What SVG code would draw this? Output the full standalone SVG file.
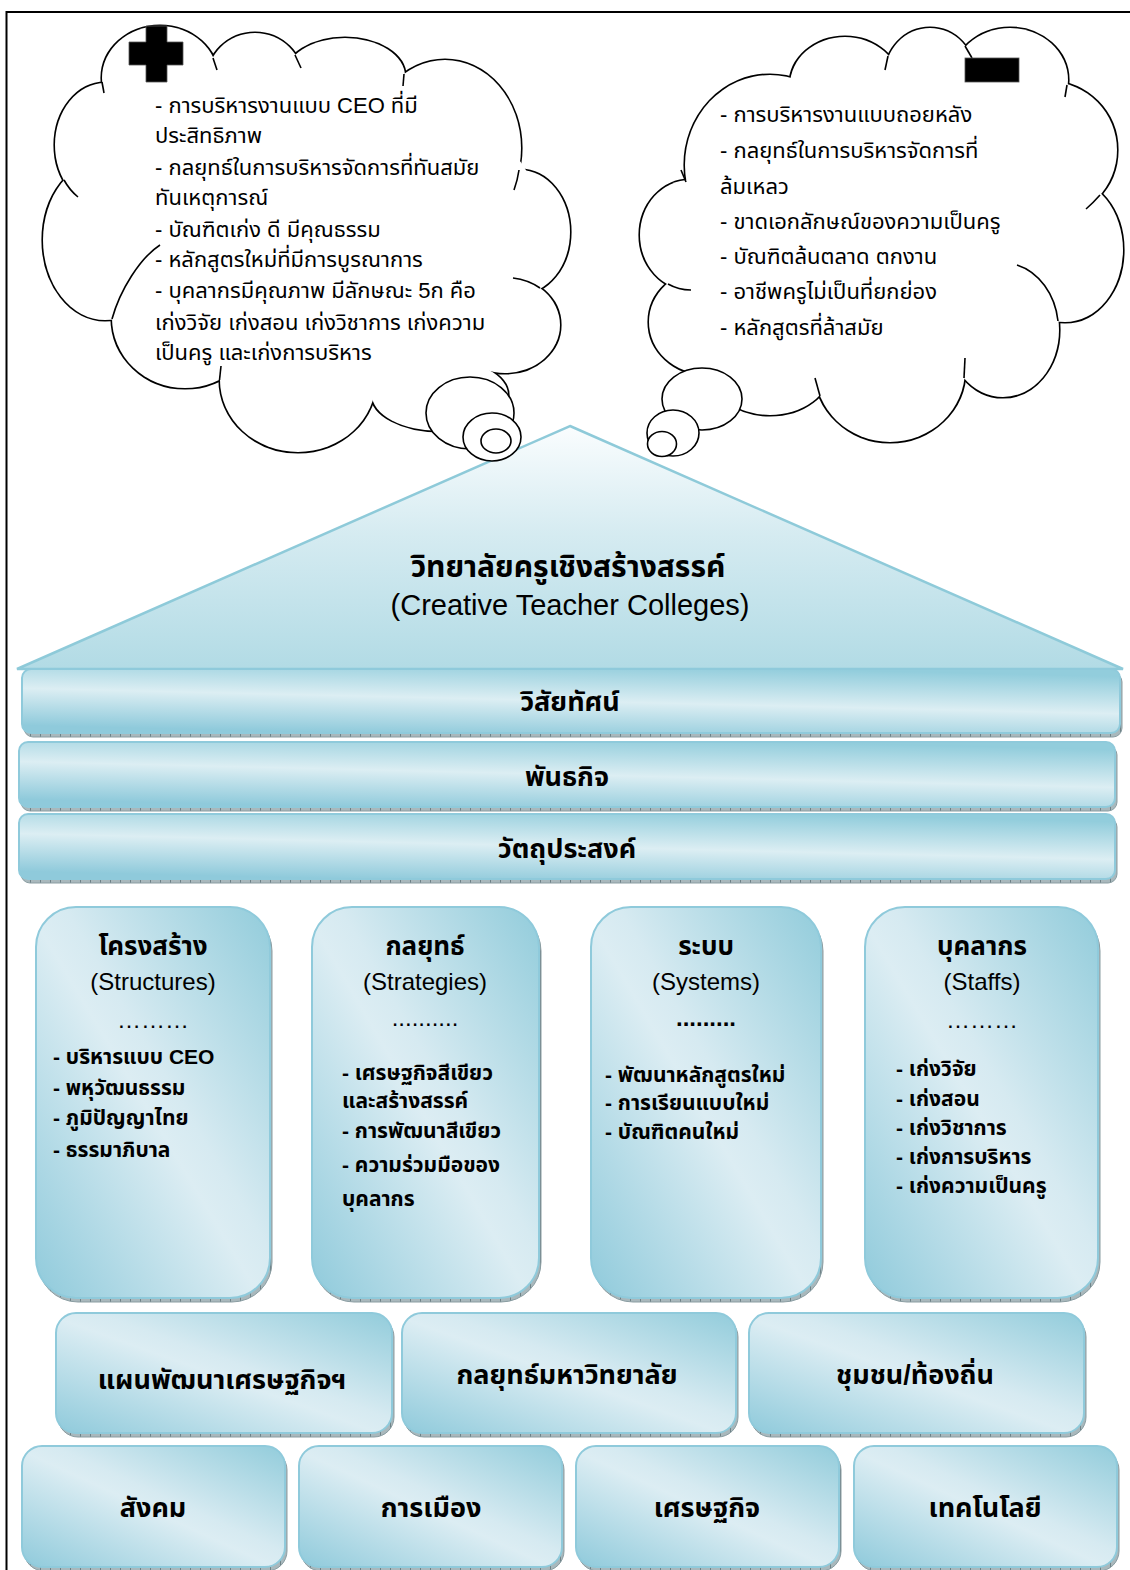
<svg xmlns="http://www.w3.org/2000/svg" width="1130" height="1570" viewBox="0 0 1130 1570">
  <style>
    .frame { fill: none; stroke: #000; stroke-width: 2; }
    .lobe-line { fill: none; stroke: #000; stroke-width: 3.2; }
    .lobe-fill { fill: #fff; stroke: none; }
    .stub { fill: none; stroke: #000; stroke-width: 1.6; }
    .bubble { fill: #fff; stroke: #000; stroke-width: 1.6; }
    .sign { fill: #000; stroke: #555; stroke-width: 0.8; }
    .th { font-family: "Liberation Sans", "Noto Sans Thai", "Noto Sans", "DejaVu Sans", sans-serif; fill: #000; }
    .ctext { font-size: 22px; }
    .roof { fill: url(#gRoof); stroke: #8ecad9; stroke-width: 2.5; }
    .band { fill: url(#gBand); stroke: #8fcadb; stroke-width: 2; }
    .box { fill: url(#gBox); stroke: #8fcadb; stroke-width: 2; }
    .shade { fill: url(#ticks); stroke: #8a9da2; stroke-width: 1; }
    .title { font-size: 26px; font-weight: bold; text-anchor: middle; }
    .roof-title { font-size: 30px; font-weight: bold; text-anchor: middle; }
    .roof-eng { font-size: 29px; text-anchor: middle; }
    .eng { font-size: 24px; text-anchor: middle; }
    .lbl { font-size: 27px; font-weight: bold; text-anchor: middle; }
    .item { font-size: 21px; font-weight: bold; }
    .dots { font-size: 24px; text-anchor: middle; }
  </style>
  <defs>
    <linearGradient id="gRoof" x1="0" y1="0" x2="0" y2="1">
      <stop offset="0" stop-color="#fafdfe"/>
      <stop offset="0.45" stop-color="#d5ebf1"/>
      <stop offset="1" stop-color="#b2dbe5"/>
    </linearGradient>
    <linearGradient id="gBand" x1="0.7" y1="0" x2="0.3" y2="1">
      <stop offset="0" stop-color="#92cddc"/>
      <stop offset="0.5" stop-color="#dceef3"/>
      <stop offset="1" stop-color="#8fcadb"/>
    </linearGradient>
    <linearGradient id="gBox" x1="0" y1="1" x2="1" y2="0">
      <stop offset="0" stop-color="#8fcadb"/>
      <stop offset="0.48" stop-color="#dcedf3"/>
      <stop offset="0.56" stop-color="#d6eaf1"/>
      <stop offset="1" stop-color="#92ccdb"/>
    </linearGradient>
    <pattern id="ticks" width="10" height="10" patternUnits="userSpaceOnUse">
      <rect width="10" height="10" fill="#a9b8bc"/>
      <path d="M0.5 0V10" stroke="#6f8287" stroke-width="1"/>
    </pattern>
    <clipPath id="roofClip">
      <rect x="0" y="420" width="1130" height="201"/>
    </clipPath>
    <!-- lobes of the left (plus) cloud -->
    <g id="lobesL">
      <ellipse cx="160" cy="78" rx="58" ry="52"/>
      <ellipse cx="255" cy="80" rx="48" ry="47"/>
      <ellipse cx="345" cy="76" rx="60" ry="38"/>
      <ellipse cx="445" cy="148" rx="76" ry="88"/>
      <ellipse cx="520" cy="232" rx="50" ry="62"/>
      <ellipse cx="505" cy="325" rx="55" ry="48"/>
      <ellipse cx="440" cy="395" rx="68" ry="36"/>
      <ellipse cx="298" cy="380" rx="78" ry="72"/>
      <ellipse cx="185" cy="318" rx="73" ry="70"/>
      <ellipse cx="105" cy="240" rx="62" ry="80"/>
      <ellipse cx="105" cy="145" rx="50" ry="62"/>
    </g>
    <!-- lobes of the right (minus) cloud -->
    <g id="lobesR">
      <ellipse cx="770" cy="165" rx="85" ry="90"/>
      <ellipse cx="845" cy="85" rx="55" ry="48"/>
      <ellipse cx="930" cy="75" rx="45" ry="47"/>
      <ellipse cx="1010" cy="80" rx="58" ry="52"/>
      <ellipse cx="1050" cy="150" rx="67" ry="68"/>
      <ellipse cx="1065" cy="250" rx="58" ry="72"/>
      <ellipse cx="1003" cy="330" rx="56" ry="67"/>
      <ellipse cx="890" cy="370" rx="75" ry="72"/>
      <ellipse cx="770" cy="370" rx="60" ry="45"/>
      <ellipse cx="705" cy="322" rx="56" ry="52"/>
      <ellipse cx="690" cy="235" rx="50" ry="55"/>
    </g>
  </defs>

  <!-- page frame -->
  <path class="frame" d="M6.5 1570V12H1130"/>

  <!-- roof -->
  <g id="roof">
    <polygon class="roof" points="570,426 1123,669 17,669"/>
    <g clip-path="url(#roofClip)">
      <text class="th roof-title" x="568" y="577">วิทยาลัยครูเชิงสร้างสรรค์</text>
      <text class="th roof-eng" x="570" y="615">(Creative Teacher Colleges)</text>
    </g>
  </g>

  <!-- horizontal bands -->
  <g id="band-vision">
    <rect class="shade" x="24" y="673" width="1098" height="64" rx="9"/>
    <rect class="band" x="22" y="669" width="1098" height="64" rx="9"/>
    <text class="th lbl" x="570" y="711">วิสัยทัศน์</text>
  </g>
  <g id="band-mission">
    <rect class="shade" x="21" y="746" width="1096" height="65" rx="9"/>
    <rect class="band" x="19" y="742" width="1096" height="65" rx="9"/>
    <text class="th lbl" x="567" y="786">พันธกิจ</text>
  </g>
  <g id="band-objective">
    <rect class="shade" x="21" y="818" width="1096" height="65" rx="9"/>
    <rect class="band" x="19" y="814" width="1096" height="65" rx="9"/>
    <text class="th lbl" x="567" y="858">วัตถุประสงค์</text>
  </g>

  <!-- pillars -->
  <g id="pillar-structures">
    <rect class="shade" x="38" y="911" width="234" height="391" rx="40"/>
    <rect class="box" x="36" y="907" width="234" height="391" rx="40"/>
    <text class="th title" x="153" y="955">โครงสร้าง</text>
    <text class="th eng" x="153" y="990">(Structures)</text>
    <text class="th dots" x="153" y="1028">………</text>
    <text class="th item" x="53" y="1064">- บริหารแบบ CEO</text>
    <text class="th item" x="53" y="1095">- พหุวัฒนธรรม</text>
    <text class="th item" x="53" y="1125">- ภูมิปัญญาไทย</text>
    <text class="th item" x="53" y="1157">- ธรรมาภิบาล</text>
  </g>
  <g id="pillar-strategies">
    <rect class="shade" x="314" y="911" width="227" height="391" rx="40"/>
    <rect class="box" x="312" y="907" width="227" height="391" rx="40"/>
    <text class="th title" x="425" y="955">กลยุทธ์</text>
    <text class="th eng" x="425" y="990">(Strategies)</text>
    <text class="th dots" x="425" y="1026">..........</text>
    <text class="th item" x="342" y="1080">- เศรษฐกิจสีเขียว</text>
    <text class="th item" x="342" y="1108">และสร้างสรรค์</text>
    <text class="th item" x="342" y="1138">- การพัฒนาสีเขียว</text>
    <text class="th item" x="342" y="1172">- ความร่วมมือของ</text>
    <text class="th item" x="342" y="1206">บุคลากร</text>
  </g>
  <g id="pillar-systems">
    <rect class="shade" x="593" y="911" width="230" height="391" rx="40"/>
    <rect class="box" x="591" y="907" width="230" height="391" rx="40"/>
    <text class="th title" x="706" y="955">ระบบ</text>
    <text class="th eng" x="706" y="990">(Systems)</text>
    <text class="th dots" x="706" y="1026" font-weight="bold">.........</text>
    <text class="th item" x="605" y="1082">- พัฒนาหลักสูตรใหม่</text>
    <text class="th item" x="605" y="1110">- การเรียนแบบใหม่</text>
    <text class="th item" x="605" y="1139">- บัณฑิตคนใหม่</text>
  </g>
  <g id="pillar-staffs">
    <rect class="shade" x="867" y="911" width="233" height="391" rx="40"/>
    <rect class="box" x="865" y="907" width="233" height="391" rx="40"/>
    <text class="th title" x="982" y="955">บุคลากร</text>
    <text class="th eng" x="982" y="990">(Staffs)</text>
    <text class="th dots" x="982" y="1028">………</text>
    <text class="th item" x="896" y="1076">- เก่งวิจัย</text>
    <text class="th item" x="896" y="1106">- เก่งสอน</text>
    <text class="th item" x="896" y="1135">- เก่งวิชาการ</text>
    <text class="th item" x="896" y="1164">- เก่งการบริหาร</text>
    <text class="th item" x="896" y="1193">- เก่งความเป็นครู</text>
  </g>

  <!-- middle row -->
  <g id="box-plan">
    <rect class="shade" x="58" y="1317" width="336" height="120" rx="20"/>
    <rect class="box" x="56" y="1313" width="336" height="120" rx="20"/>
    <text class="th lbl" x="222" y="1389">แผนพัฒนาเศรษฐกิจฯ</text>
  </g>
  <g id="box-university">
    <rect class="shade" x="404" y="1317" width="334" height="120" rx="20"/>
    <rect class="box" x="402" y="1313" width="334" height="120" rx="20"/>
    <text class="th lbl" x="567" y="1384">กลยุทธ์มหาวิทยาลัย</text>
  </g>
  <g id="box-community">
    <rect class="shade" x="751" y="1317" width="335" height="120" rx="20"/>
    <rect class="box" x="749" y="1313" width="335" height="120" rx="20"/>
    <text class="th lbl" x="915" y="1384">ชุมชน/ท้องถิ่น</text>
  </g>

  <!-- bottom row -->
  <g id="box-society">
    <rect class="shade" x="24" y="1450" width="263" height="121" rx="20"/>
    <rect class="box" x="22" y="1446" width="263" height="121" rx="20"/>
    <text class="th lbl" x="153" y="1517">สังคม</text>
  </g>
  <g id="box-politics">
    <rect class="shade" x="301" y="1450" width="263" height="121" rx="20"/>
    <rect class="box" x="299" y="1446" width="263" height="121" rx="20"/>
    <text class="th lbl" x="431" y="1517">การเมือง</text>
  </g>
  <g id="box-economy">
    <rect class="shade" x="578" y="1450" width="263" height="121" rx="20"/>
    <rect class="box" x="576" y="1446" width="263" height="121" rx="20"/>
    <text class="th lbl" x="707" y="1517">เศรษฐกิจ</text>
  </g>
  <g id="box-technology">
    <rect class="shade" x="856" y="1450" width="263" height="121" rx="20"/>
    <rect class="box" x="854" y="1446" width="263" height="121" rx="20"/>
    <text class="th lbl" x="985" y="1517">เทคโนโลยี</text>
  </g>

  <!-- plus cloud: strengths -->
  <g id="cloud-plus">
    <use href="#lobesL" class="lobe-line"/>
    <use href="#lobesL" class="lobe-fill"/>
    <ellipse class="lobe-fill" cx="310" cy="220" rx="230" ry="145"/>
    <ellipse class="lobe-fill" cx="400" cy="300" rx="140" ry="90"/>
    <!-- inner arc ends where lobes meet -->
    <path class="stub" d="M112,319 C120,290 140,258 160,245"/>
    <path class="stub" d="M64,180 A50,62 0 0 0 78,197"/>
    <path class="stub" d="M540,288 A55,48 0 0 0 513,278"/>
    <path class="stub" d="M519,170 A76,88 0 0 1 514,190"/>
    <path class="stub" d="M219.5,380 L221,366"/>
    <path class="stub" d="M213,58 L217,70"/>
    <path class="stub" d="M295,55 L301,68"/>
    <path class="stub" d="M404,74 L403,86"/>
    <path class="stub" d="M102,82 L104,93"/>
    <ellipse class="bubble" cx="470" cy="413" rx="44" ry="36"/>
    <ellipse class="bubble" cx="492" cy="437" rx="29" ry="24"/>
    <ellipse class="bubble" cx="496" cy="441" rx="15" ry="12"/>
    <path class="sign" d="M146,26H167V42H183V65H167V82H146V65H129V42H146Z"/>
    <g class="th ctext">
      <text x="155" y="113">- การบริหารงานแบบ CEO ที่มี</text>
      <text x="155" y="143">ประสิทธิภาพ</text>
      <text x="155" y="175">- กลยุทธ์ในการบริหารจัดการที่ทันสมัย</text>
      <text x="155" y="205">ทันเหตุการณ์</text>
      <text x="155" y="237">- บัณฑิตเก่ง ดี มีคุณธรรม</text>
      <text x="155" y="267">- หลักสูตรใหม่ที่มีการบูรณาการ</text>
      <text x="155" y="298">- บุคลากรมีคุณภาพ มีลักษณะ 5ก คือ</text>
      <text x="155" y="330">เก่งวิจัย เก่งสอน เก่งวิชาการ เก่งความ</text>
      <text x="155" y="360">เป็นครู และเก่งการบริหาร</text>
    </g>
  </g>

  <!-- minus cloud: weaknesses -->
  <g id="cloud-minus">
    <use href="#lobesR" class="lobe-line"/>
    <use href="#lobesR" class="lobe-fill"/>
    <ellipse class="lobe-fill" cx="880" cy="230" rx="200" ry="140"/>
    <!-- inner arc ends where lobes meet -->
    <path class="stub" d="M1058,321 A56,67 0 0 0 1017,265"/>
    <path class="stub" d="M668,284 A50,55 0 0 0 691,290"/>
    <path class="stub" d="M1100,195 Q1093,203 1086,209"/>
    <path class="stub" d="M964,378 L965,358"/>
    <path class="stub" d="M820,396 L815,378"/>
    <path class="stub" d="M686,182 L681,170"/>
    <path class="stub" d="M888,56 L885,70"/>
    <path class="stub" d="M965,46 L972,58"/>
    <path class="stub" d="M1067,85 L1065,97"/>
    <ellipse class="bubble" cx="702" cy="399" rx="40" ry="31"/>
    <ellipse class="bubble" cx="673" cy="433" rx="26" ry="23"/>
    <ellipse class="bubble" cx="662" cy="444" rx="14.5" ry="12.5"/>
    <rect class="sign" x="965" y="58" width="54" height="24"/>
    <g class="th ctext">
      <text x="720" y="122">- การบริหารงานแบบถอยหลัง</text>
      <text x="720" y="158">- กลยุทธ์ในการบริหารจัดการที่</text>
      <text x="720" y="194">ล้มเหลว</text>
      <text x="720" y="229">- ขาดเอกลักษณ์ของความเป็นครู</text>
      <text x="720" y="264">- บัณฑิตล้นตลาด ตกงาน</text>
      <text x="720" y="299">- อาชีพครูไม่เป็นที่ยกย่อง</text>
      <text x="720" y="335">- หลักสูตรที่ล้าสมัย</text>
    </g>
  </g>

  <g id="connectors"/>
</svg>
